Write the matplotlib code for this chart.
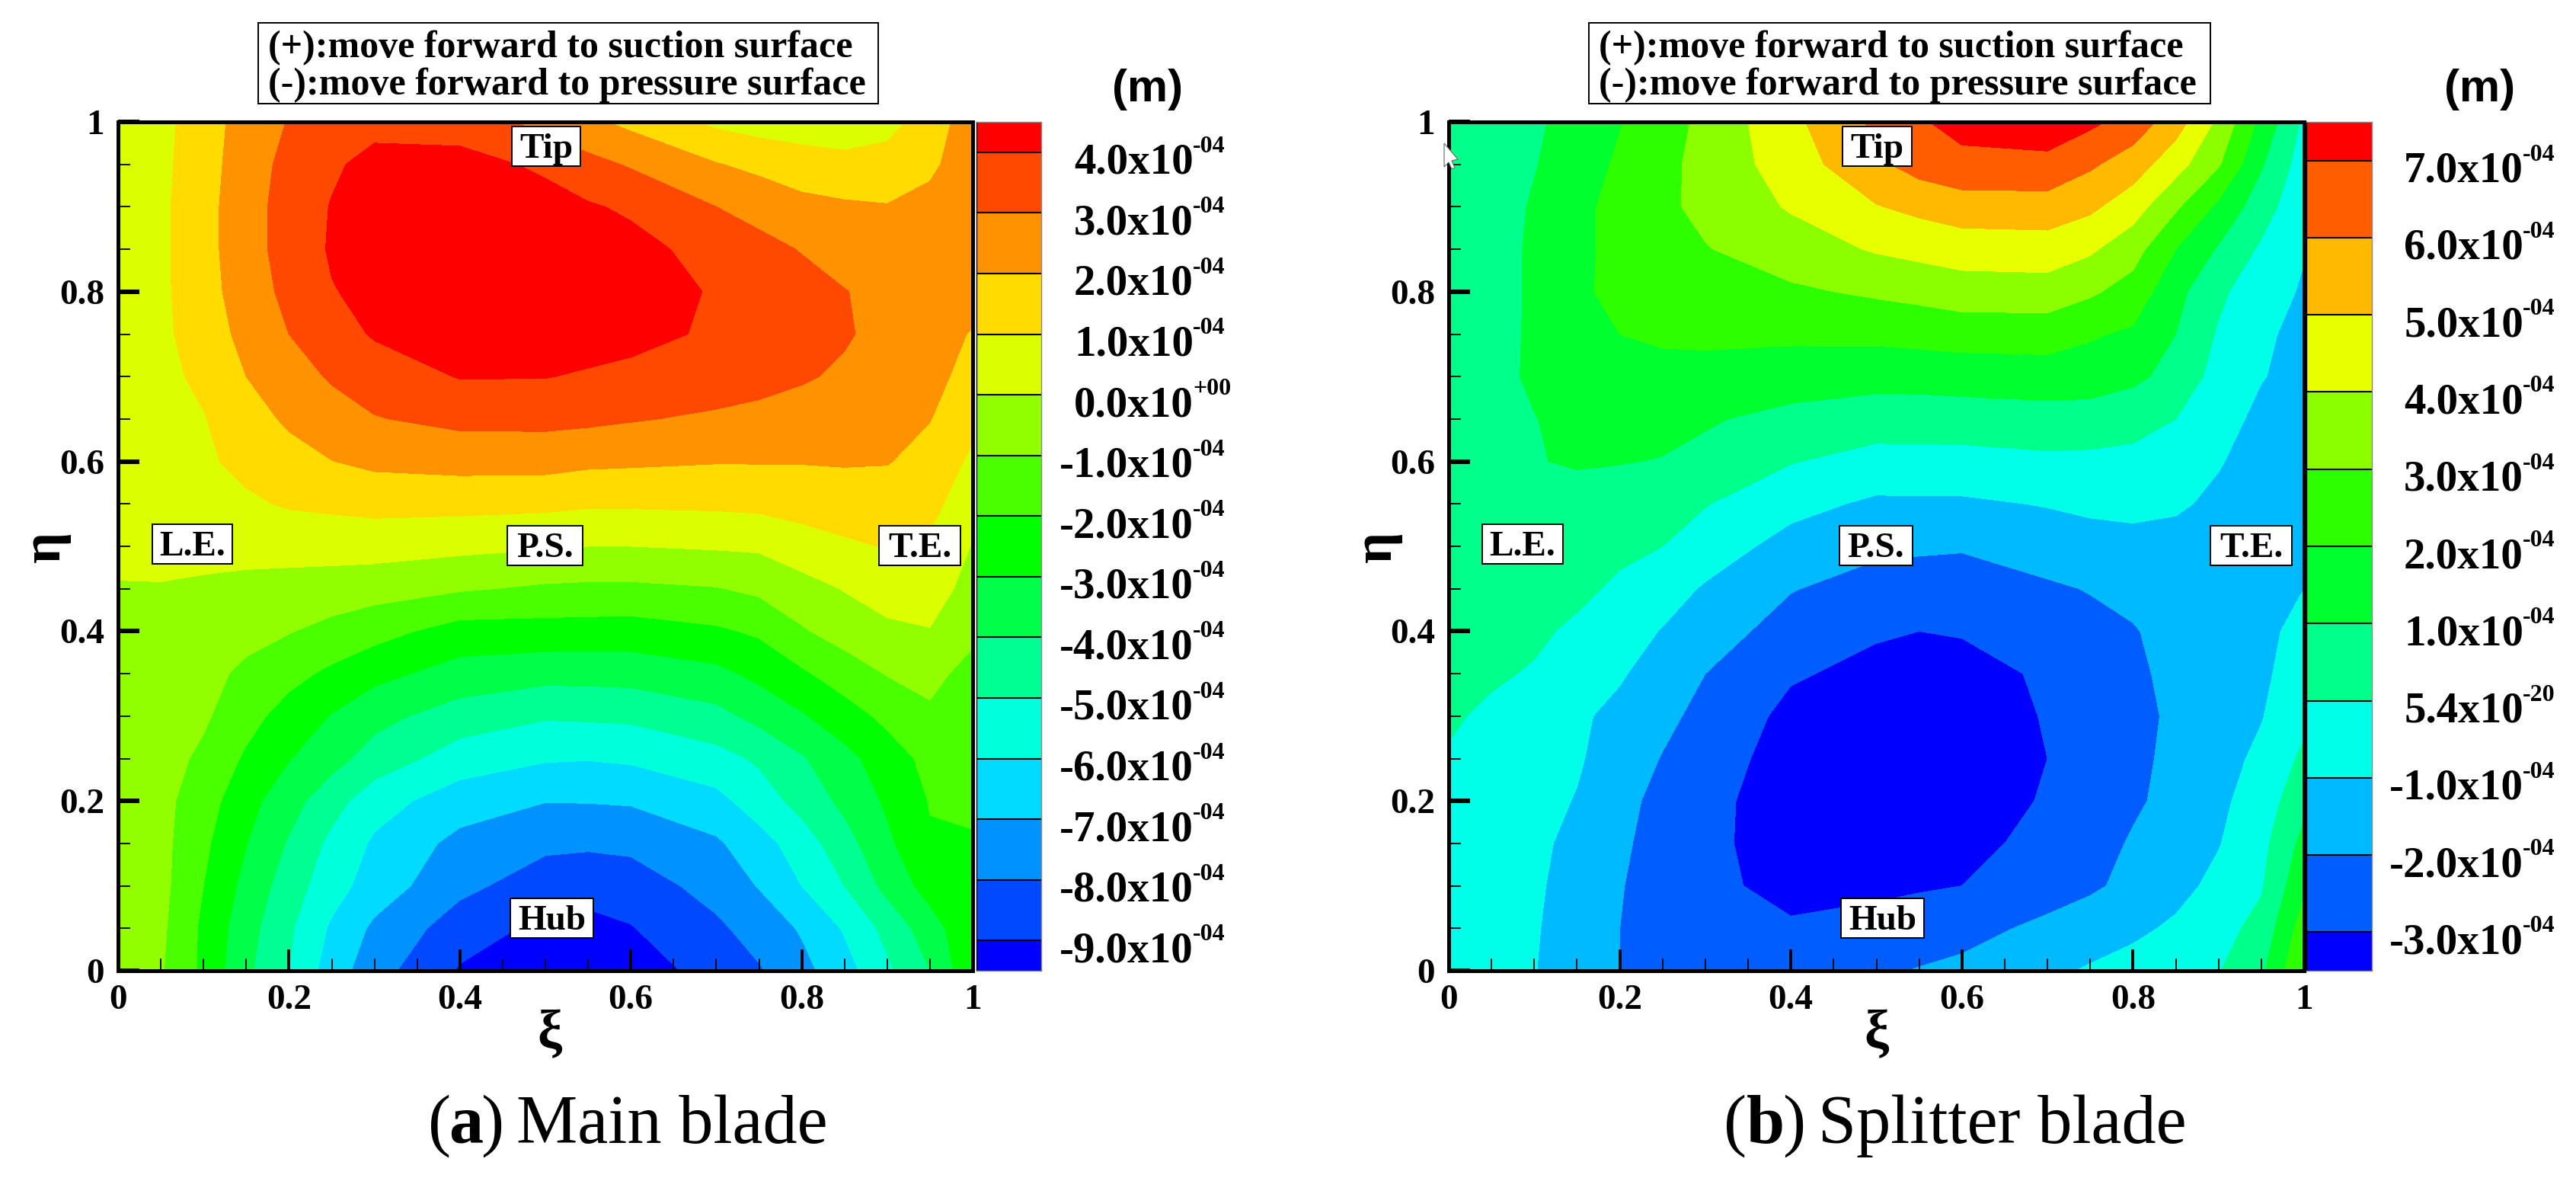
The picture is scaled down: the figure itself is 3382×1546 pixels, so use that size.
import matplotlib
matplotlib.use("Agg")
import matplotlib.pyplot as plt
import matplotlib.patches as patches
from matplotlib.colors import ListedColormap, BoundaryNorm
from matplotlib.transforms import Affine2D
import numpy as np

W, H = 3382, 1546
SERIF = "Liberation Serif"

# grid of the blade surface, values in 1e-4 m
xi = [0, .05, .1, .15, .2, .25, .3, .4, .5, .55, .6, .7, .75, .8, .85, .9, .95, 1]
eta = [0, .05, .1, .15, .2, .25, .3, .35, .4, .45, .5, .55, .6, .65, .7, .75, .8, .85, .9, .95, 1]

main_values = [
    [-.5, -.9, -2.2, -3.8, -5, -6.5, -7.6, -9.1, -9.5, -9.55, -9.4, -8.7, -8.1, -7.3, -6.4, -5.2, -4, -2.2],
    [-.4, -.8, -2.2, -3.6, -4.85, -6.15, -7.2, -8.5, -9.25, -9.3, -9.05, -8.2, -7.56, -6.9, -5.9, -4.7, -3.45, -2.2],
    [-.4, -.7, -2, -3.3, -4.5, -5.6, -6.45, -7.75, -8.5, -8.63, -8.55, -7.6, -6.95, -6, -5, -3.7, -2.6, -2.1],
    [-.45, -.7, -1.8, -2.97, -4.1, -5.25, -6.15, -7.3, -7.8, -7.85, -7.75, -7.15, -6.4, -5.5, -4.4, -3.2, -2.1, -2.05],
    [-.45, -.7, -1.55, -2.65, -3.6, -4.6, -5.6, -6.5, -6.97, -6.95, -6.9, -6.3, -5.5, -4.65, -3.75, -2.85, -1.95, -1.9],
    [-.4, -.6, -1.2, -2.15, -2.95, -3.65, -4.4, -5.5, -5.9, -5.95, -5.85, -5.35, -4.85, -4.1, -3.3, -2.5, -1.7, -1.6],
    [-.4, -.55, -.85, -1.65, -2.4, -3.05, -3.7, -4.45, -4.9, -4.85, -4.8, -4.3, -3.7, -3.1, -2.45, -1.75, -1.15, -1.4],
    [-.3, -.45, -.7, -1.2, -1.7, -2.2, -2.7, -3.4, -3.65, -3.65, -3.6, -3.25, -2.75, -2.15, -1.5, -.95, -.75, -1.3],
    [-.15, -.25, -.45, -.7, -.95, -1.3, -1.65, -2.4, -2.4, -2.42, -2.45, -2.15, -1.85, -1.1, -.6, -.2, -.05, -.8],
    [-.05, -.05, -.15, -.25, -.35, -.45, -.6, -.9, -1.15, -1.2, -1.2, -1.05, -.8, -.4, .05, .43, .5, -.4],
    [.2, .25, .3, .3, .35, .38, .42, .25, .1, 0, 0, .1, .15, .6, .85, 1.05, .85, -.05],
    [.4, .45, .6, .85, 1.1, 1.2, 1.3, 1.3, 1.23, 1.13, 1.13, 1.18, 1.25, 1.35, 1.5, 1.5, 1.3, .37],
    [.5, .6, .85, 1.25, 1.65, 1.98, 2.22, 2.35, 2.35, 2.2, 2.15, 2.05, 2.05, 2.05, 2.08, 2.05, 1.65, .82],
    [.55, .65, .95, 1.6, 2.15, 2.6, 2.95, 3.25, 3.27, 3.2, 3.07, 2.85, 2.75, 2.6, 2.5, 2.3, 2.03, 1.25],
    [.6, .75, 1.2, 2, 2.6, 3.1, 3.45, 4.05, 4.03, 3.9, 3.75, 3.5, 3.3, 3.1, 2.85, 2.55, 2.3, 1.65],
    [.6, .8, 1.45, 2.3, 3, 3.55, 4.1, 4.45, 4.45, 4.4, 4.3, 3.85, 3.6, 3.35, 3.1, 2.7, 2.3, 1.95],
    [.6, .8, 1.6, 2.5, 3.25, 3.95, 4.25, 4.45, 4.5, 4.45, 4.35, 3.93, 3.6, 3.35, 3.03, 2.75, 2.5, 2.3],
    [.6, .8, 1.65, 2.6, 3.4, 4.1, 4.35, 4.5, 4.55, 4.45, 4.3, 3.65, 3.3, 2.95, 2.65, 2.4, 2.35, 2.4],
    [.6, .8, 1.65, 2.6, 3.4, 4.05, 4.25, 4.4, 4.3, 4.1, 3.85, 3, 2.65, 2.3, 2.15, 2.05, 2.3, 2.5],
    [.6, .75, 1.6, 2.5, 3.3, 3.85, 4.3, 4.3, 3.85, 3.3, 2.9, 2.05, 1.75, 1.43, 1.25, 1.35, 1.8, 2.6],
    [.6, .7, 1.55, 2.4, 3.05, 3.4, 3.7, 3.6, 2.65, 2.2, 1.75, .8, .55, .5, .5, .7, 1.4, 2.6],
]

splitter_values = [
    [-.55, -.75, -.97, -1.45, -2, -2.2, -2.4, -2.6, -2.15, -1.95, -1.8, -1.2, -.9, -.65, -.35, -.05, .8, 3],
    [-.5, -.7, -.92, -1.45, -2, -2.25, -2.5, -2.9, -2.67, -2.5, -2.3, -1.8, -1.5, -1.2, -.85, -.35, .3, 2.5],
    [-.35, -.6, -.85, -1.4, -1.95, -2.4, -2.8, -3.25, -3.2, -3.1, -3, -2.4, -2.15, -1.75, -1.3, -.75, -.1, 1.8],
    [-.3, -.55, -.8, -1.25, -1.85, -2.35, -2.8, -3.4, -3.55, -3.5, -3.25, -2.75, -2.4, -1.9, -1.45, -1.05, -.3, 1.3],
    [-.3, -.55, -.7, -1.05, -1.7, -2.3, -2.75, -3.45, -3.6, -3.6, -3.55, -2.9, -2.55, -2.15, -1.7, -1.2, -.55, .7],
    [-.1, -.4, -.65, -.9, -1.45, -2.05, -2.55, -3.4, -3.6, -3.6, -3.55, -3, -2.6, -2.2, -1.8, -1.35, -.8, .2],
    [.15, -.2, -.6, -.85, -1.25, -1.75, -2.3, -3.25, -3.45, -3.45, -3.4, -2.95, -2.6, -2.25, -1.85, -1.45, -1.05, -.25],
    [.35, .15, -.1, -.5, -.9, -1.45, -2, -2.9, -3.25, -3.35, -3.25, -2.9, -2.6, -2.15, -1.8, -1.55, -1.2, -.45],
    [.5, .4, .2, -.2, -.6, -1.05, -1.55, -2.4, -2.9, -3, -2.95, -2.55, -2.3, -2.05, -1.75, -1.5, -1.25, -.7],
    [.6, .55, .4, .25, -.2, -.6, -1.1, -1.95, -2.4, -2.5, -2.55, -2.15, -1.95, -1.8, -1.65, -1.5, -1.3, -1],
    [.6, .65, .55, .4, .25, 0, -.5, -1.35, -1.8, -1.85, -1.9, -1.5, -1.4, -1.3, -1.25, -1.3, -1.3, -1.1],
    [.65, .7, .7, .6, .4, .2, .05, -.7, -1.17, -1.15, -1.15, -.95, -.8, -.75, -.9, -1.15, -1.3, -1.3],
    [.7, .8, .95, 1.1, 1.05, .95, .75, .05, -.35, -.35, -.35, -.2, -.2, -.3, -.55, -.95, -1.3, -1.4],
    [.7, .8, .97, 1.3, 1.45, 1.35, 1.1, .72, .47, .5, .53, .6, .5, .4, 0, -.6, -1.25, -1.4],
    [.6, .7, 1.15, 1.55, 1.68, 1.7, 1.67, 1.48, 1.36, 1.35, 1.42, 1.52, 1.55, 1.2, .7, -.4, -.95, -1.35],
    [.55, .65, 1.15, 1.7, 2, 2.15, 2.2, 2.2, 2.25, 2.35, 2.45, 2.45, 2.1, 1.85, 1, -.1, -.85, -1.25],
    [.5, .6, 1.15, 1.8, 2.3, 2.5, 2.7, 2.85, 3.15, 3.3, 3.5, 3.55, 3.15, 2.6, 1.3, .2, -.6, -1.1],
    [.45, .6, 1.15, 1.75, 2.3, 2.65, 2.95, 3.5, 4.1, 4.3, 4.5, 4.55, 4.15, 3.4, 2, .9, -.15, -.95],
    [.4, .55, 1.1, 1.75, 2.3, 2.8, 3.25, 4.1, 4.95, 5.25, 5.5, 5.55, 5.2, 4.45, 3.15, 1.8, .45, -.75],
    [.35, .5, .95, 1.5, 2.15, 2.75, 3.3, 4.5, 5.8, 6.4, 6.75, 6.75, 6.15, 5.5, 4.4, 3.1, 1.1, -.5],
    [.3, .55, .85, 1.35, 1.95, 2.55, 3.25, 4.75, 6.2, 6.9, 7.3, 7.55, 7.2, 6.6, 5.45, 3.8, 1.75, -.2],
]

main_levels = [-9, -8, -7, -6, -5, -4, -3, -2, -1, 0, 1, 2, 3, 4]
splitter_levels = [-3, -2, -1, 0, 1, 2, 3, 4, 5, 6, 7]
main_labels = ["-9.0x10", "-8.0x10", "-7.0x10", "-6.0x10", "-5.0x10", "-4.0x10", "-3.0x10",
               "-2.0x10", "-1.0x10", "0.0x10", "1.0x10", "2.0x10", "3.0x10", "4.0x10"]
main_exps = ["-04"] * 9 + ["+00"] + ["-04"] * 4
splitter_labels = ["-3.0x10", "-2.0x10", "-1.0x10", "5.4x10", "1.0x10", "2.0x10",
                   "3.0x10", "4.0x10", "5.0x10", "6.0x10", "7.0x10"]
splitter_exps = ["-04"] * 3 + ["-20"] + ["-04"] * 7

main_colors = ["#0000FF", "#0049FF", "#0092FF", "#00DBFF", "#00FFDB", "#00FF92", "#00FF49", "#00FF00",
               "#49FF00", "#92FF00", "#DBFF00", "#FFDB00", "#FF9200", "#FF4900", "#FF0000"]
splitter_colors = ["#0000FF", "#005DFF", "#00BAFF", "#00FFE8", "#00FF8B", "#00FF2E",
                   "#2EFF00", "#8BFF00", "#E8FF00", "#FFBA00", "#FF5D00", "#FF0000"]

fig = plt.figure(figsize=(W / 100, H / 100), dpi=100)
fig.patch.set_facecolor("white")
# pixel coordinates of the reference, y going down
tr = Affine2D().scale(1 / W, -1 / H).translate(0, 1) + fig.transFigure


def add_axes_px(x0, y0, x1, y1):
    return fig.add_axes([x0 / W, 1 - y1 / H, (x1 - x0) / W, (y1 - y0) / H])


def ptext(x, y, s, **kw):
    kw.setdefault("family", SERIF)
    return fig.text(x, y, s, transform=tr, **kw)


def tag(x0, y0, x1, y1, s):
    box = patches.Rectangle((x0, y0), x1 - x0, y1 - y0, transform=tr, fc="white", ec="black", lw=1.4, zorder=2)
    fig.add_artist(box)
    ptext((x0 + x1) / 2, y0 + (y1 - y0) * 0.79, s, ha="center", va="baseline", fontsize=34, weight="bold", zorder=3)


def draw_panel(values, levels, colors, labels, exps, ax_px, bar_px, offs):
    x0, y0, x1, y1 = ax_px
    ax = add_axes_px(x0, y0, x1, y1)
    bounds = [-99] + levels + [99]
    ax.contourf(xi, eta, np.array(values), levels=bounds, colors=colors)
    ax.set_xlim(0, 1)
    ax.set_ylim(0, 1)
    for s in ax.spines.values():
        s.set_linewidth(3.6)
    ax.set_xticks(np.arange(0, 1.01, .2))
    ax.set_yticks(np.arange(0, 1.01, .2))
    ax.set_xticks(np.arange(0, 1.01, .05), minor=True)
    ax.set_yticks(np.arange(0, 1.01, .05), minor=True)
    ax.set_xticklabels(["0", "0.2", "0.4", "0.6", "0.8", "1"], family=SERIF, weight="bold", fontsize=34)
    ax.set_yticklabels(["0", "0.2", "0.4", "0.6", "0.8", "1"], family=SERIF, weight="bold", fontsize=34)
    ax.tick_params(axis="x", which="major", direction="in", length=20, width=2.8, pad=13)
    ax.tick_params(axis="y", which="major", direction="in", length=20, width=4.3, pad=13)
    ax.tick_params(axis="both", which="minor", direction="in", length=11.5, width=1.3)

    # colour bar, outer bands are half height like the reference
    bx0, bx1 = bar_px
    bar = add_axes_px(bx0, y0, bx1, y1)
    edges = [levels[0] - .5] + levels + [levels[-1] + .5]
    cmap = ListedColormap(colors)
    norm = BoundaryNorm(edges, cmap.N)
    mids = (np.array(edges[:-1]) + np.array(edges[1:])) / 2
    bar.pcolormesh([0, 1], edges, mids[:, None], cmap=cmap, norm=norm)
    bar.hlines(levels, 0, 1, color="black", lw=1.5)
    bar.set_xlim(0, 1)
    bar.set_ylim(edges[0], edges[-1])
    bar.set_xticks([])
    bar.set_yticks([])
    for s in bar.spines.values():
        s.set_color("#888888")
        s.set_linewidth(1)
    bar.spines["left"].set_color("black")

    # labels next to the bar
    base_right, sup_left = offs
    for lev, lab, ex in zip(levels, labels, exps):
        ypx = bar.transData.transform((0, lev))[1]
        ypx = H - ypx
        ptext(base_right, ypx + 28, lab, ha="right", va="baseline", fontsize=41, weight="bold")
        ptext(sup_left, ypx, ex, ha="left", va="baseline", fontsize=23, weight="bold")


draw_panel(main_values, main_levels, main_colors, main_labels, main_exps,
           (155, 160, 1277, 1274), (1282, 1367), (1567, 1566))
draw_panel(splitter_values, splitter_levels, splitter_colors, splitter_labels, splitter_exps,
           (1902, 160, 3025, 1274), (3028, 3114), (3313, 3312))

# note boxes above the plots
for bx0, bx1, tx in [(339, 1153, 352), (2086, 2902, 2099)]:
    fig.add_artist(patches.Rectangle((bx0, 30), bx1 - bx0, 106, transform=tr, fc="white", ec="black", lw=1.4, zorder=2))
    ptext(tx, 75, "(+):move forward to suction surface", ha="left", va="baseline", fontsize=36, weight="bold", zorder=3)
    ptext(tx, 124, "(-):move forward to pressure surface", ha="left", va="baseline", fontsize=36, weight="bold", zorder=3)

ptext(1507, 133, "(m)", family="Liberation Sans", ha="center", va="baseline", fontsize=43, weight="bold")
ptext(3256, 133, "(m)", family="Liberation Sans", ha="center", va="baseline", fontsize=43, weight="bold")

# in-plot tags
tag(672, 166, 762, 218, "Tip")
tag(200, 688, 305, 740, "L.E.")
tag(666, 690, 765, 742, "P.S.")
tag(1154, 690, 1261, 742, "T.E.")
tag(670, 1179, 779, 1231, "Hub")
tag(2419, 166, 2510, 218, "Tip")
tag(1946, 688, 2052, 740, "L.E.")
tag(2415, 690, 2511, 742, "P.S.")
tag(2902, 690, 3009, 742, "T.E.")
tag(2417, 1179, 2526, 1231, "Hub")

# axis names
ptext(60, 718, "η", rotation=90, ha="center", va="center", fontsize=52, weight="bold")
ptext(1808, 718, "η", rotation=90, ha="center", va="center", fontsize=52, weight="bold")
ptext(721, 1359, "ξ", ha="center", va="center", fontsize=52, weight="bold")
ptext(2464, 1359, "ξ", ha="center", va="center", fontsize=52, weight="bold")

# captions
ptext(562, 1500, "(", fontsize=65)
ptext(589, 1500, "a", fontsize=65, weight="bold")
ptext(631, 1500, ")", fontsize=65)
ptext(678, 1500, "Main blade", fontsize=65)
ptext(2263, 1500, "(", fontsize=65)
ptext(2293, 1500, "b", fontsize=65, weight="bold")
ptext(2340, 1500, ")", fontsize=65)
ptext(2387, 1500, "Splitter blade", fontsize=65)

# stray mouse pointer left in the screenshot
fig.add_artist(patches.Polygon([(1896, 188), (1896, 219), (1902, 213), (1906, 222), (1910, 220), (1906, 211), (1914, 209)],
                               closed=True, transform=tr, fc="white", ec="#666666", lw=0.8, zorder=4))

fig.savefig("out.png", dpi=100)
